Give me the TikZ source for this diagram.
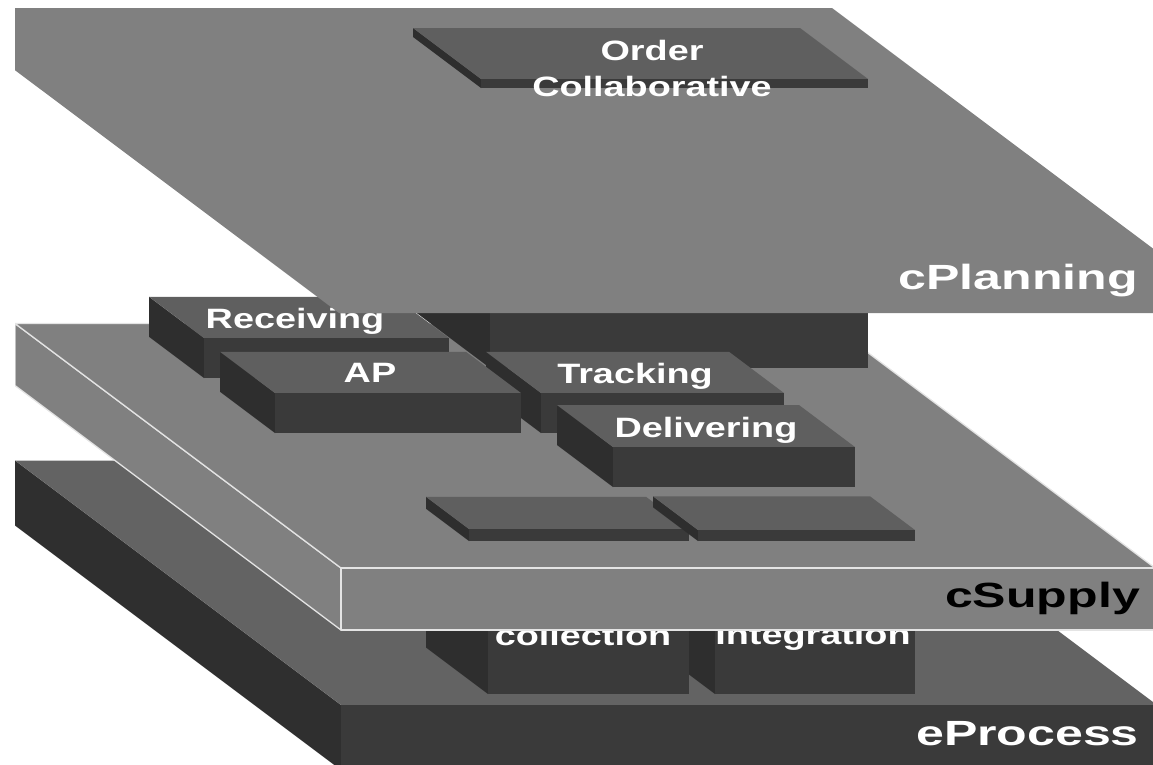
\documentclass[tikz,border=0pt]{standalone}
\usepackage{fontspec}
\newfontfamily\lblfont{Liberation Sans}[FakeStretch=1.35]
\newfontfamily\layerfont{Liberation Sans}[FakeStretch=1.43]

\definecolor{planegray}{HTML}{808080}
\definecolor{boxtop}{HTML}{5F5F5F}
\definecolor{boxfront}{HTML}{3A3A3A}
\definecolor{boxside}{HTML}{2E2E2E}
\definecolor{basetop}{HTML}{636363}
\definecolor{baseside}{HTML}{2F2F2F}
\definecolor{rim}{HTML}{E4E4E4}

% Oblique block: front face [#1,#2]x[#3,#4], receding by #5 to the back
% (slope 3/4); #6 top style, #7 front style, #8 left side style.
\newcommand\drawblock[8]{%
  \path[#8] (#1,#3) -- (#1,#4) -- ({#1-#5},{#4-0.75*#5}) -- ({#1-#5},{#3-0.75*#5}) -- cycle;
  \path[#6] (#1,#3) -- (#2,#3) -- ({#2-#5},{#3-0.75*#5}) -- ({#1-#5},{#3-0.75*#5}) -- cycle;
  \path[#7] (#1,#3) rectangle (#2,#4);
}

\tikzset{
  topface/.style={fill=boxtop},
  frontface/.style={fill=boxfront},
  sideface/.style={fill=boxside},
  supplyface/.style={fill=planegray, draw=rim, line width=1.3pt, line join=round},
  boxlabel/.style={text=white, inner sep=0pt, anchor=base,
    font=\lblfont\bfseries\fontsize{28}{28}\selectfont},
  layerlabel/.style={inner sep=0pt, anchor=base east,
    font=\layerfont\bfseries\fontsize{35}{35}\selectfont},
}

\begin{document}
\begin{tikzpicture}[x=1pt, y=-1pt]
  \useasboundingbox (0,0) rectangle (1153,764);
  \clip (15,0) rectangle (1153,764);

  % eProcess base layer
  \drawblock{341}{1157}{705}{770}{326}{fill=basetop}{frontface}{fill=baseside}

  % blocks standing on eProcess
  \drawblock{715}{915}{590}{694}{62}{topface}{frontface}{sideface}
  \node[boxlabel] (integ) at (813,644) {Integration};
  \drawblock{488}{689}{590}{694}{62}{topface}{frontface}{sideface}
  \node[boxlabel] (coll) at (583,645) {collection};

  % cSupply layer
  \drawblock{341}{1155}{568}{630}{326}{supplyface}{supplyface}{supplyface}

  % blocks standing on cSupply
  \drawblock{490}{868}{250}{368}{100}{topface}{frontface}{sideface}
  \drawblock{204}{449}{338}{378}{55}{topface}{frontface}{sideface}
  \node[boxlabel] (recv) at (295,328) {Receiving};
  \drawblock{541}{784}{393}{433}{55}{topface}{frontface}{sideface}
  \node[boxlabel] (track) at (635,383) {Tracking};
  \drawblock{275}{521}{393}{433}{55}{topface}{frontface}{sideface}
  \node[boxlabel] (ap) at (370,382) {AP};
  \drawblock{613}{855}{447}{487}{56}{topface}{frontface}{sideface}
  \node[boxlabel] (deliv) at (706,437) {Delivering};
  \drawblock{469}{689}{529}{541}{43}{topface}{frontface}{sideface}
  \drawblock{698}{915}{530}{541}{45}{topface}{frontface}{sideface}

  % cPlanning layer
  \fill[planegray] (-68,8) -- (832,8) -- (1239,313) -- (339,313) -- cycle;
  \drawblock{481}{868}{79}{88}{68}{topface}{frontface}{sideface}
  \node[boxlabel] (order) at (652,60) {Order};
  \node[boxlabel] (collab) at (652,96) {Collaborative};

  % layer names
  \node[layerlabel, text=white] (plan) at (1138,289) {cPlanning};
  \node[layerlabel, text=black] (supply) at (1140,607) {cSupply};
  \node[layerlabel, text=white] (proc) at (1139,745) {eProcess};
\end{tikzpicture}
\end{document}
